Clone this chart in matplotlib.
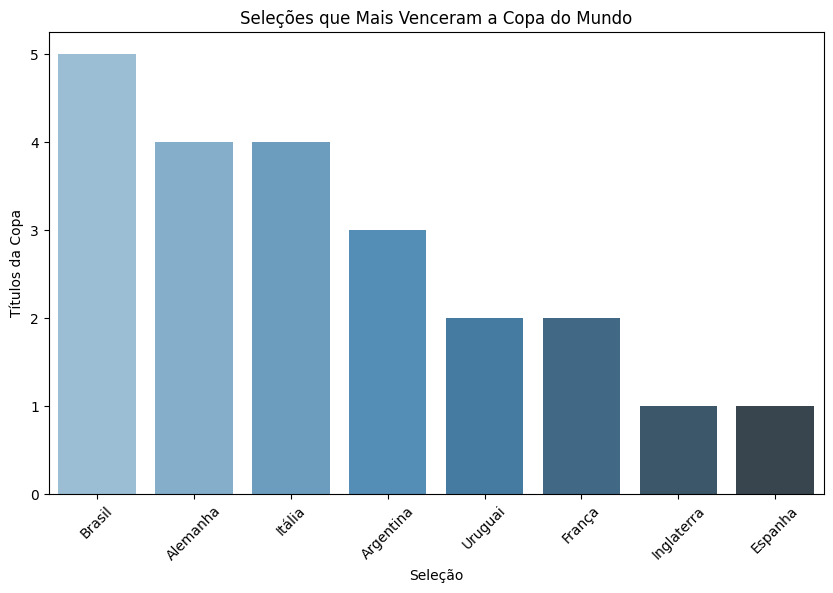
import matplotlib
matplotlib.use("Agg")
import matplotlib.pyplot as plt
import seaborn as sns

selecoes = ["Brasil", "Alemanha", "Itália", "Argentina", "Uruguai", "França", "Inglaterra", "Espanha"]
titulos = [5, 4, 4, 3, 2, 2, 1, 1]

fig = plt.figure(figsize=(8.33, 5.93), dpi=100)
ax = fig.add_axes([48.6 / 833, 1 - 494 / 593, 775 / 833, 462 / 593])

sns.barplot(x=selecoes, y=titulos, hue=selecoes, palette="Blues_d", legend=False, ax=ax)
ax.set_title("Seleções que Mais Venceram a Copa do Mundo")
ax.set_xlabel("Seleção")
ax.set_ylabel("Títulos da Copa")
ax.tick_params(axis="x", labelrotation=45)

plt.savefig("out.png", dpi=100)
